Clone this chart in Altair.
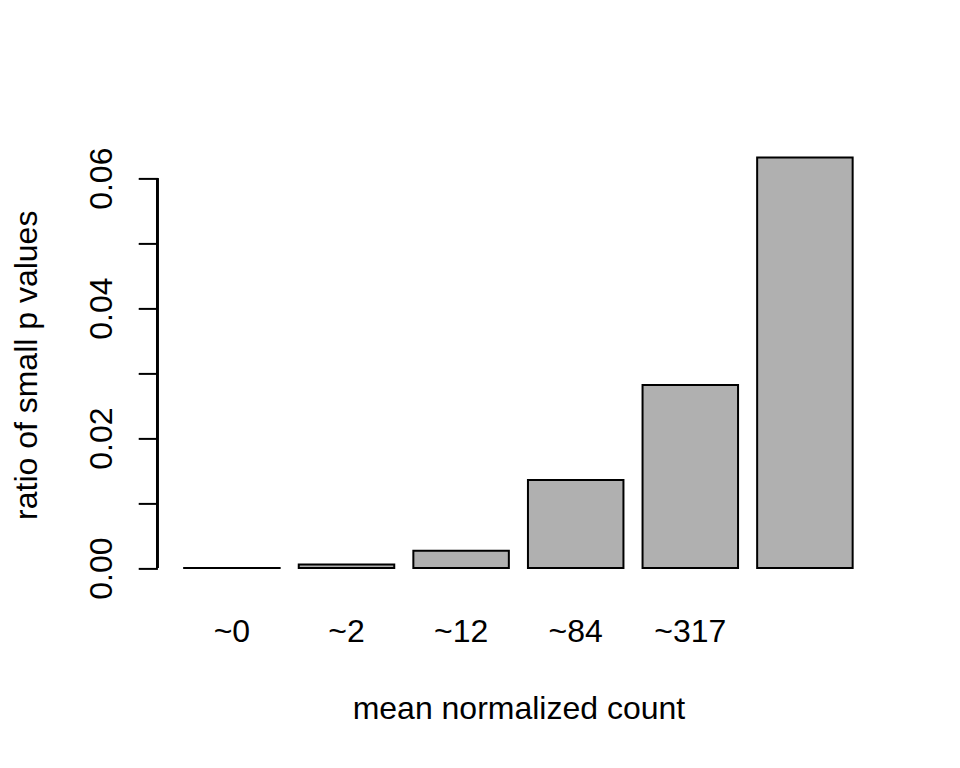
import altair as alt
import pandas as pd

# data
categories = ["~0", "~2", "~12", "~84", "~317", ""]
ratios = [0.00003, 0.00057, 0.00266, 0.01355, 0.02818, 0.0632]
y_ticks = [0.0, 0.01, 0.02, 0.03, 0.04, 0.05, 0.06]

df = pd.DataFrame({"bin": categories, "ratio": ratios})

FONT = "Liberation Sans"
FS = 32
W, H = 722, 414.8
ymax = max(ratios)

bars = alt.Chart(df).mark_bar(
    color="#B0B0B0", stroke="black", strokeWidth=2
).encode(
    x=alt.X(
        "bin:N",
        sort=categories,
        scale=alt.Scale(paddingInner=0.2 / 1.2, paddingOuter=0.28 / 1.2),
        axis=alt.Axis(
            title="mean normalized count",
            domain=False, ticks=False, tickSize=0,
            labelAngle=0, labelAlign="center", labelBaseline="alphabetic",
            labelPadding=69.1, labelFont=FONT, labelFontSize=FS, labelColor="black",
            titleFont=FONT, titleFontSize=FS, titleFontWeight="normal", titleColor="black",
            titleX=W / 2, titleY=145.9, titleAlign="center", titleBaseline="alphabetic",
            titleAngle=0,
        ),
    ),
    y=alt.Y(
        "ratio:Q",
        scale=alt.Scale(domain=[-0.01 * ymax, ymax], nice=False, zero=False),
        axis=alt.Axis(
            title="ratio of small p values",
            values=y_ticks,
            labelExpr="round(datum.value*100) % 2 == 0 ? format(datum.value, '.2f') : ''",
            domain=False, grid=False,
            ticks=True, tickSize=19.2, tickWidth=2, tickColor="black",
            labelAngle=270, labelAlign="center", labelBaseline="alphabetic",
            labelPadding=26.9, labelFont=FONT, labelFontSize=FS, labelColor="black",
            labelOverlap=False, labelBound=False, labelFlush=False,
            titleFont=FONT, titleFontSize=FS, titleFontWeight="normal", titleColor="black",
            titleAngle=270, titleX=-120.5, titleY=H / 2, titleAlign="center",
            titleBaseline="alphabetic",
        ),
    ),
    y2=alt.datum(0),
)

axis_line = alt.Chart(df).mark_rule(color="black", strokeWidth=2).encode(
    x=alt.value(0),
    y=alt.datum(y_ticks[0]),
    y2=alt.datum(y_ticks[-1]),
)

chart = alt.layer(bars, axis_line).properties(
    width=W,
    height=H,
    autosize=alt.AutoSizeParams(type="none"),
    padding={"left": 149.4, "top": 149.4, "right": 72.6, "bottom": 172},
    background="white",
).configure_view(stroke=None)

chart.save("out.html", embed_options={"renderer": "svg", "actions": False})
